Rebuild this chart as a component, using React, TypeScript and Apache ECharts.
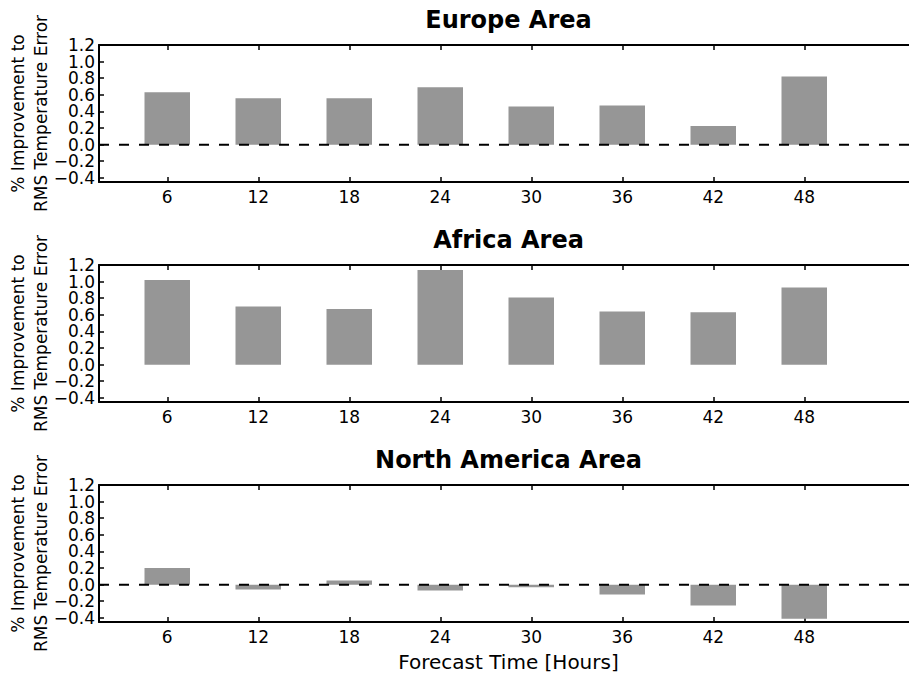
import React, { useEffect, useRef } from "react";
import * as echarts from "echarts";

const hours = [6, 12, 18, 24, 30, 36, 42, 48];
const europe = [0.63, 0.56, 0.56, 0.69, 0.46, 0.47, 0.225, 0.82];
const africa = [1.02, 0.7, 0.67, 1.14, 0.81, 0.64, 0.63, 0.93];
const northAmerica = [0.2, -0.06, 0.05, -0.07, -0.03, -0.12, -0.25, -0.41];
const panelTitles = ["Europe Area", "Africa Area", "North America Area"];
const yTicks = [-0.4, -0.2, 0, 0.2, 0.4, 0.6, 0.8, 1.0, 1.2];
const yLabel = "% Improvement to\nRMS Temperature Error";
const xLabel = "Forecast Time [Hours]";
const zeroLinePanels = [true, false, true];
const barHalfWidth = 1.5; // hours

const FONT = "DejaVu Sans";

export default function App() {
  const ref = useRef<HTMLDivElement>(null);
  useEffect(() => {
    if (!ref.current) return;
    const chart = echarts.init(ref.current, null, { renderer: "svg" });
    const seriesData = [europe, africa, northAmerica];
    const tops = [45, 265, 485];
    const gridH = 137;
    const gridLeft = 99;
    const gridW = 819;
    const xMin = 1.5;
    const xMax = 55.5;
    const yMin = -0.45;
    const yMax = 1.2;
    const axisLineStyle = { color: "#000", width: 2 };
    const tickLineStyle = { color: "#000", width: 1.5 };
    // split labels into two interleaved sets so ECharts never drops one
    const labelsA = yTicks.filter((_, k) => k % 2 === 0);
    const labelsB = yTicks.filter((_, k) => k % 2 === 1);
    const yLabelStyle = {
      show: true,
      fontSize: 17,
      lineHeight: 14,
      fontFamily: FONT,
      color: "#000",
      margin: 4,
      showMinLabel: true,
      showMaxLabel: true,
      formatter: (v: number) => v.toFixed(1).replace("-", "\u2212"),
    };

    const grids: any[] = [];
    const xAxes: any[] = [];
    const yAxes: any[] = [];
    const series: any[] = [];
    const graphics: any[] = [];

    seriesData.forEach((vals, i) => {
      grids.push({ left: gridLeft, top: tops[i], width: gridW, height: gridH });
      xAxes.push({
        type: "value",
        gridIndex: i,
        position: "bottom",
        min: xMin,
        max: xMax,
        axisLine: { show: true, onZero: false, lineStyle: axisLineStyle },
        axisTick: { show: true, inside: true, length: 5, customValues: hours, lineStyle: tickLineStyle },
        axisLabel: {
          show: true,
          customValues: hours,
          fontSize: 17,
          fontFamily: FONT,
          color: "#000",
          margin: 6,
        },
        splitLine: { show: false },
      });
      xAxes.push({
        type: "value",
        gridIndex: i,
        position: "top",
        min: xMin,
        max: xMax,
        axisLine: { show: true, onZero: false, lineStyle: axisLineStyle },
        axisTick: { show: true, inside: true, length: 5, customValues: hours, lineStyle: tickLineStyle },
        axisLabel: { show: false },
        splitLine: { show: false },
      });
      yAxes.push({
        type: "value",
        gridIndex: i,
        position: "left",
        min: yMin,
        max: yMax,
        axisLine: { show: true, onZero: false, lineStyle: axisLineStyle },
        axisTick: { show: true, inside: true, length: 5, customValues: yTicks, lineStyle: tickLineStyle },
        axisLabel: { ...yLabelStyle, customValues: labelsA },
        splitLine: { show: false },
      });
      yAxes.push({
        type: "value",
        gridIndex: i,
        position: "left",
        offset: 0,
        min: yMin,
        max: yMax,
        axisLine: { show: false, onZero: false },
        axisTick: { show: false },
        axisLabel: { ...yLabelStyle, customValues: labelsB },
        splitLine: { show: false },
      });
      series.push({
        type: "custom",
        xAxisIndex: i * 2,
        yAxisIndex: i * 2,
        data: hours.map((h, k) => [h, vals[k]]),
        encode: { x: 0, y: 1 },
        silent: true,
        z: 2,
        renderItem: (_params: any, api: any) => {
          const x = api.value(0);
          const y = api.value(1);
          const p1 = api.coord([x - barHalfWidth, y]);
          const p2 = api.coord([x + barHalfWidth, 0]);
          return {
            type: "rect",
            shape: {
              x: p1[0],
              y: Math.min(p1[1], p2[1]),
              width: p2[0] - p1[0],
              height: Math.abs(p2[1] - p1[1]),
            },
            style: { fill: "#969696" },
          };
        },
      });
      if (zeroLinePanels[i]) {
        series.push({
          type: "line",
          xAxisIndex: i * 2,
          yAxisIndex: i * 2,
          data: [
            [xMin, 0],
            [xMax, 0],
          ],
          showSymbol: false,
          symbol: "none",
          silent: true,
          z: 5,
          lineStyle: { color: "#000", width: 2, type: [10, 10] },
        });
      }

      graphics.push({
        type: "text",
        x: gridLeft + gridW / 2,
        y: tops[i] - 25,
        style: {
          text: panelTitles[i],
          font: `bold 24px '${FONT}'`,
          fill: "#000",
          textAlign: "center",
          textVerticalAlign: "middle",
        },
      });
      graphics.push({
        type: "text",
        x: 29,
        y: tops[i] + gridH / 2,
        rotation: Math.PI / 2,
        style: {
          text: yLabel,
          font: `17px '${FONT}'`,
          fill: "#000",
          textAlign: "center",
          textVerticalAlign: "middle",
          lineHeight: 23,
        },
      });
    });

    graphics.push({
      type: "text",
      x: gridLeft + gridW / 2,
      y: 662,
      style: {
        text: xLabel,
        font: `20px '${FONT}'`,
        fill: "#000",
        textAlign: "center",
        textVerticalAlign: "middle",
      },
    });

    chart.setOption({
      animation: false,
      backgroundColor: "#fff",
      grid: grids,
      xAxis: xAxes,
      yAxis: yAxes,
      series,
      graphic: graphics,
    });
    return () => chart.dispose();
  }, []);
  return (
    <div
      style={{
        position: "fixed",
        left: 0,
        top: 0,
        width: 909,
        height: 677,
        overflow: "hidden",
        background: "#fff",
      }}
    >
      <div ref={ref} style={{ width: 930, height: 677 }} />
    </div>
  );
}
